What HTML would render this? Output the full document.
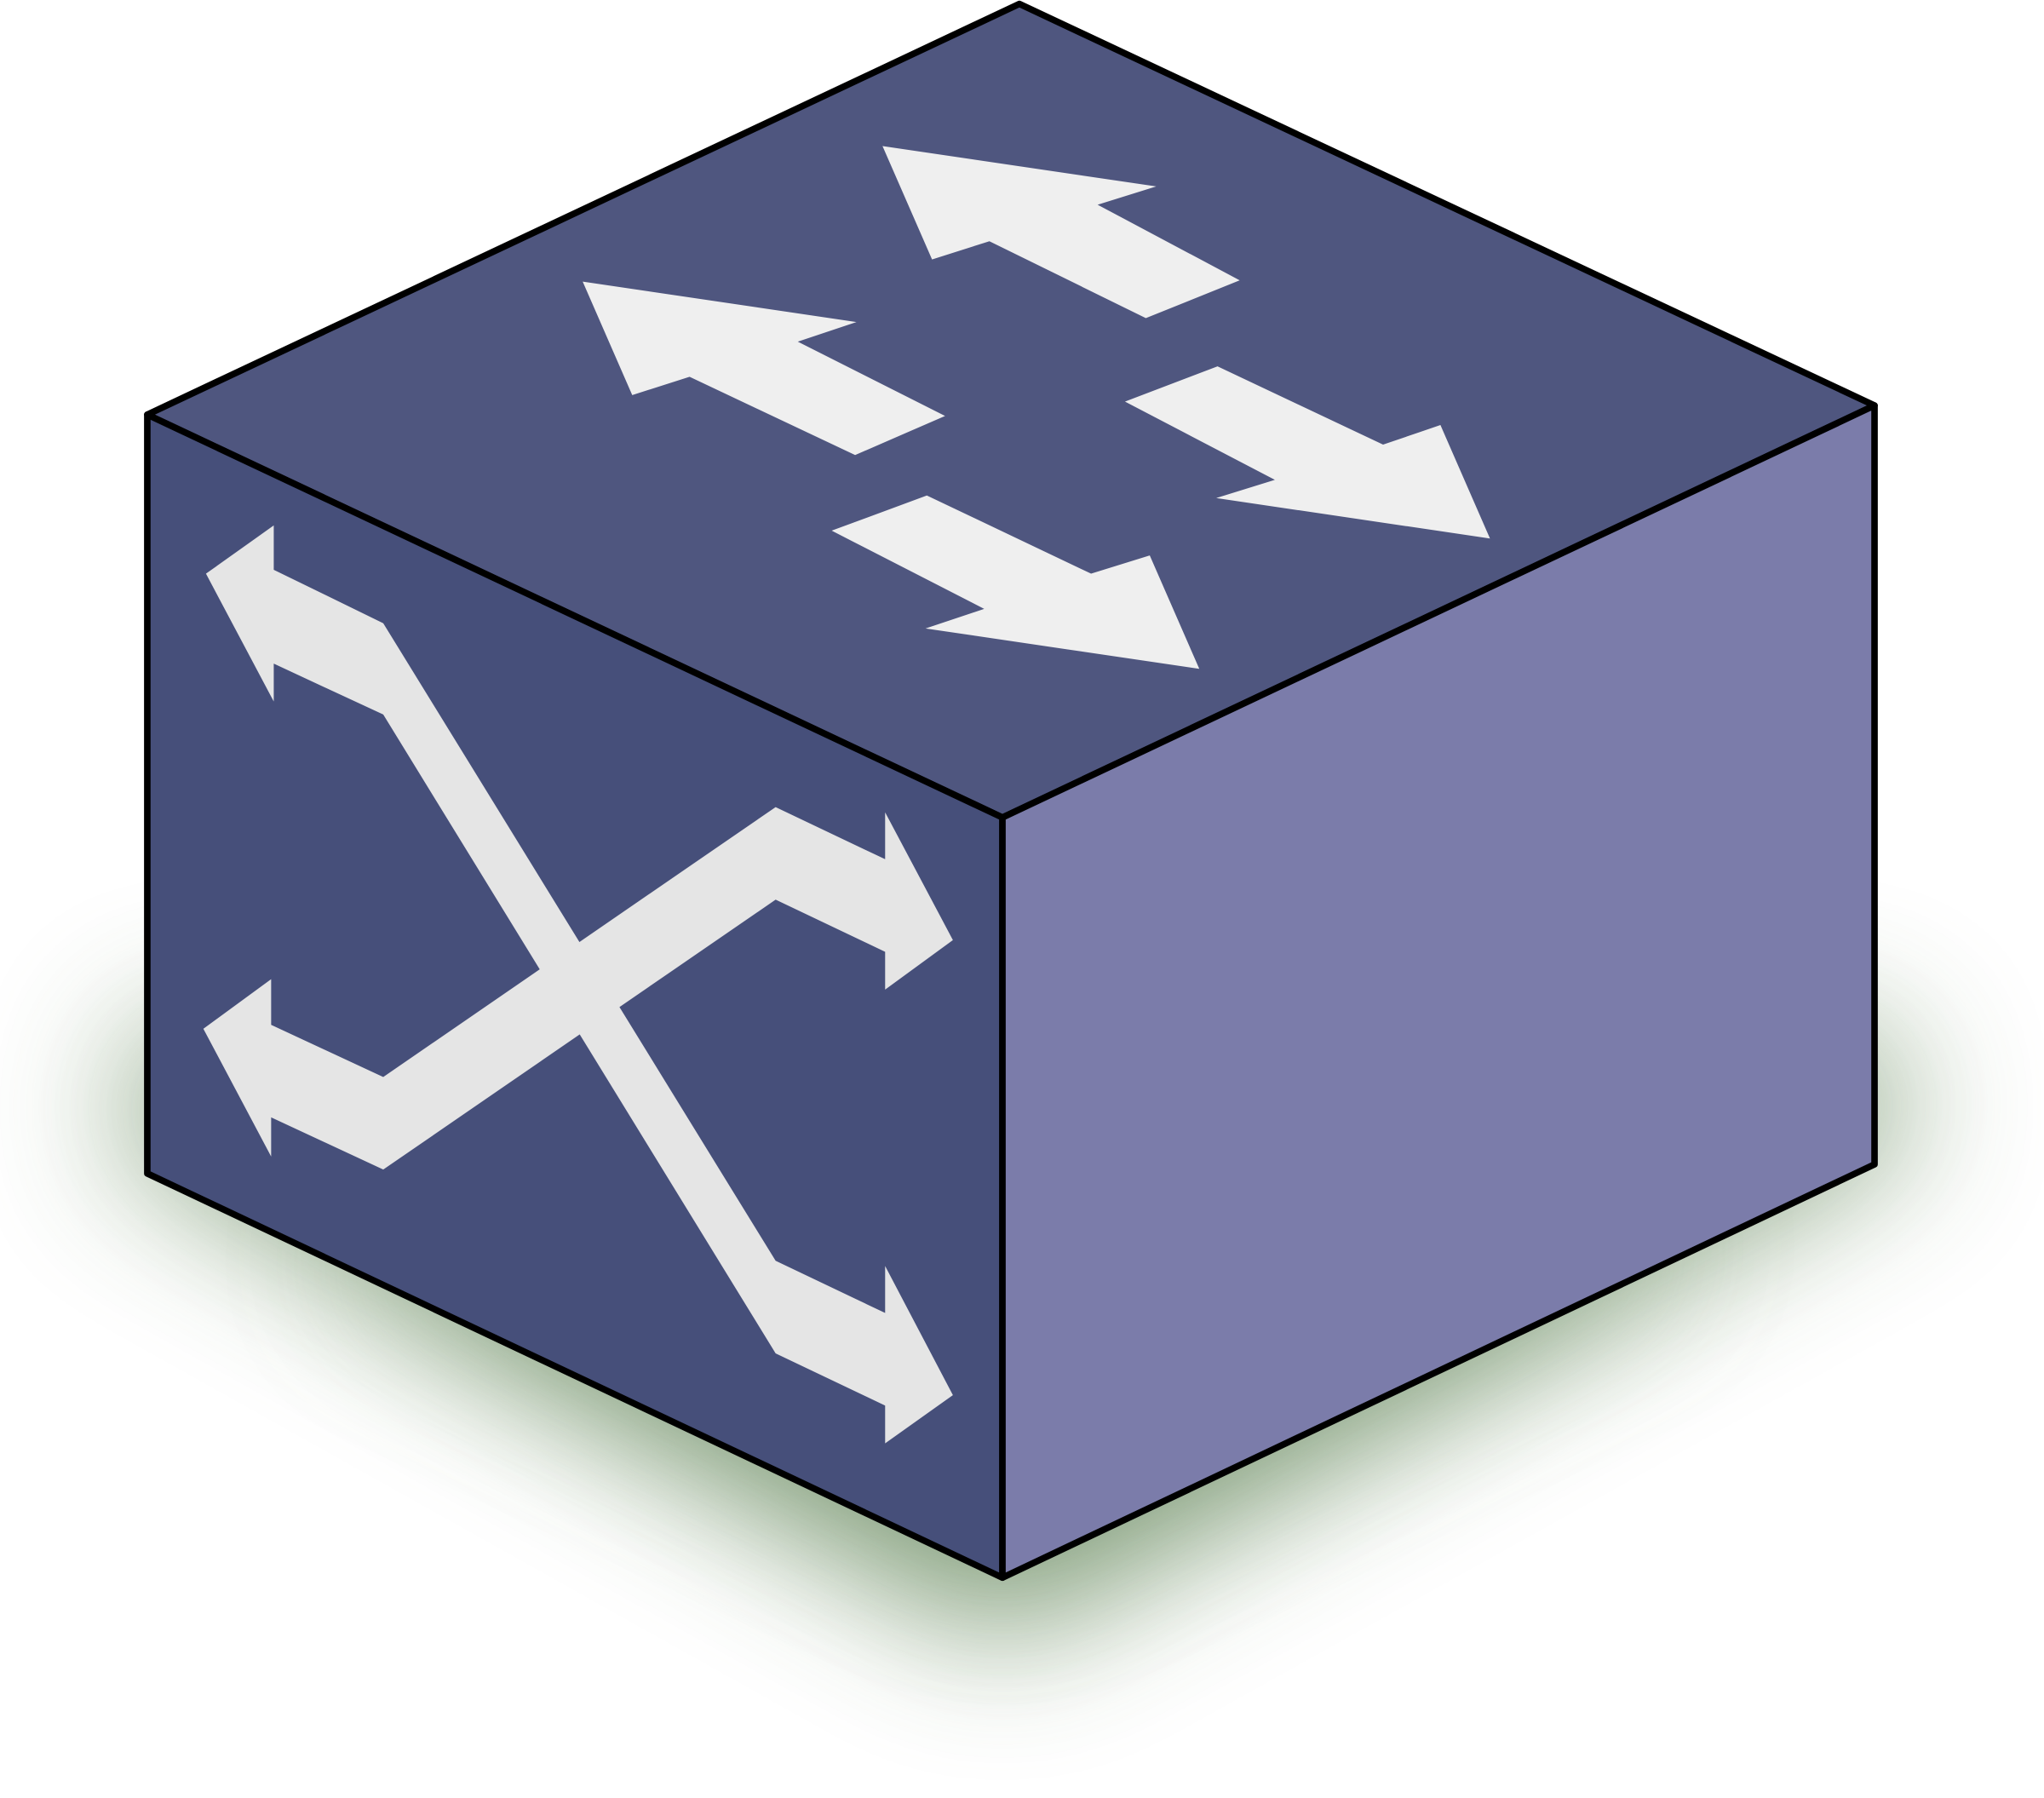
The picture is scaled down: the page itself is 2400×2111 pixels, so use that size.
<!DOCTYPE html>
<html><head><meta charset="utf-8"><style>
html,body{margin:0;padding:0;background:#fff;width:2400px;height:2111px;overflow:hidden}
svg{display:block}
</style></head><body>
<svg width="2400" height="2111" viewBox="0 0 1568 1379" preserveAspectRatio="none" xmlns="http://www.w3.org/2000/svg">
<defs>
<filter id="blur" x="-50%" y="-50%" width="200%" height="200%"><feGaussianBlur stdDeviation="55"/></filter>
</defs>
<polygon points="90,880 769,1260 1470,870 1440,790 769,790 110,790" fill="#7d9a74" opacity="0.9" filter="url(#blur)"/>
<polygon points="250,960 769,1200 1300,950 769,900" fill="#7d9a74" opacity="0.5" filter="url(#blur)"/>
<g stroke="#000" stroke-width="5" stroke-linejoin="round">
<polygon points="782,3 1438,311 769,627 113,318" fill="#4f567f"/>
<polygon points="113,318 769,627 769,1210 113,900" fill="#464f7a"/>
<polygon points="769,627 1438,311 1438,893 769,1210" fill="#7b7caa"/>
</g>
<g fill="#efefef">
<polygon points="677,112 887,143 842,157 951,215 879,244 759,185 715,199"/>
<polygon points="447,216 657,247 612,262 725,319 656,349 529,289 485,303"/>
<polygon points="863,308 934,281 1061,341 1105,326 1143,413 933,382 978,368"/>
<polygon points="638,407 711,380 837,440 882,426 920,513 710,482 755,467"/>
</g>
<g fill="#e5e5e5">
<polygon points="158,440 210,403 210,437 294,478 595,967 679,1007 679,971 731,1070 679,1107 679,1078 595,1038 294,548 210,509 210,538"/>
<polygon points="156,789 208,751 208,786 294,826 595,619 679,659 679,623 731,721 679,759 679,730 595,690 294,897 208,857 208,887"/>
</g>
</svg>
</body></html>
